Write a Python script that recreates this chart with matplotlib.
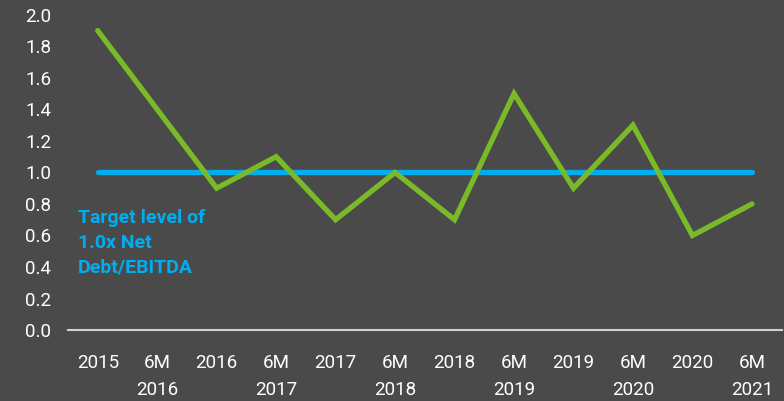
import numpy as np
import matplotlib.pyplot as plt

# --- Data ---
labels = ["2015", "6M\n2016", "2016", "6M\n2017", "2017", "6M\n2018",
          "2018", "6M\n2019", "2019", "6M\n2020", "2020", "6M\n2021"]
net_debt_ebitda = [1.9, 1.4, 0.9, 1.1, 0.7, 1.0, 0.7, 1.5, 0.9, 1.3, 0.6, 0.8]
target = [1.0] * len(labels)
yticks = np.arange(0, 2.01, 0.2)

bg = "#4a4a4a"
green = "#7aba28"
blue = "#00aeef"

plt.rcParams['font.family'] = ['Roboto', 'DejaVu Sans']

fig = plt.figure(figsize=(7.84, 4.01), dpi=100, facecolor=bg)
ax = fig.add_axes([0.0867, 0.177, 0.9103, 0.786])
ax.set_facecolor(bg)

x = np.arange(len(labels))
ax.plot(x, target, color=blue, lw=3.8, solid_capstyle='round', zorder=2)
ax.plot(x, net_debt_ebitda, color=green, lw=3.8, solid_capstyle='round',
        solid_joinstyle='miter', zorder=3)

ax.set_xlim(-0.5, len(labels) - 0.5)
ax.set_ylim(0, 2.0)
ax.set_yticks(yticks)
ax.set_yticklabels([f"{v:.1f}" for v in yticks])
ax.set_xticks(x)
ax.set_xticklabels(labels, linespacing=1.7, va='top')

for s in ["top", "right", "left"]:
    ax.spines[s].set_visible(False)
ax.spines["bottom"].set_color("#d0d0d0")
ax.spines["bottom"].set_linewidth(1.5)

ax.tick_params(axis='both', length=0, colors='white', labelsize=13.5)
ax.tick_params(axis='x', pad=17)
ax.tick_params(axis='y', pad=12)

# annotation for the target line
ax.text(-0.33, 0.765, "Target level of\n1.0x Net\nDebt/EBITDA",
        color=blue, fontsize=14, fontweight='bold',
        va='top', ha='left', linespacing=1.45)

fig.savefig("out.png", dpi=100, facecolor=bg)
